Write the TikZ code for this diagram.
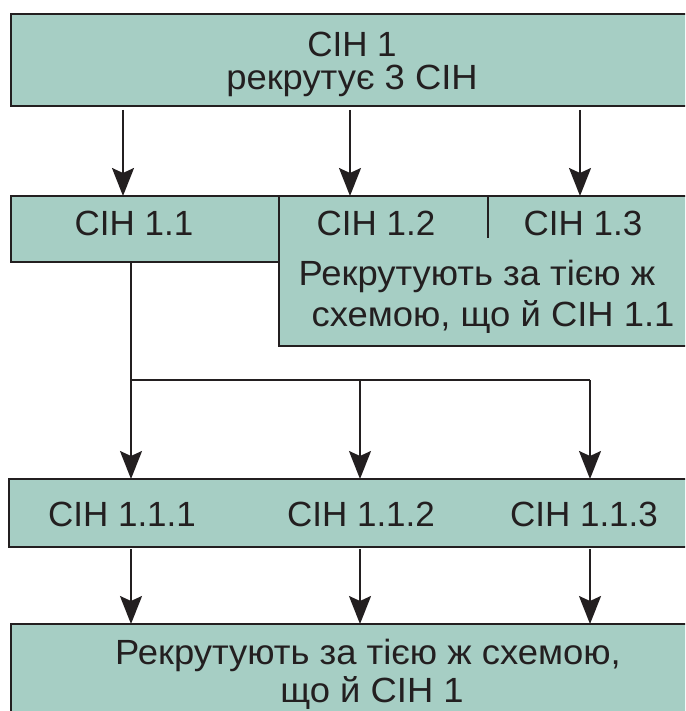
\documentclass[tikz,border=0pt]{standalone}
\usepackage{fontspec}
\setmainfont{Liberation Sans}
\newfontfamily\widefont[FakeStretch=1.04]{Liberation Sans}
\usetikzlibrary{arrows.meta}
\definecolor{boxfill}{HTML}{A6CEC4}
\definecolor{ink}{HTML}{231F20}
\begin{document}
\begin{tikzpicture}[x=1pt,y=-1pt,
  box/.style={draw=ink, line width=2.6pt, fill=boxfill, inner sep=0pt, outer sep=0pt, anchor=north west},
  lbl/.style={inner sep=0pt, text=ink, font=\fontsize{35}{40}\selectfont},
  sent/.style={inner sep=0pt, text=ink, font=\widefont\fontsize{35}{40}\selectfont},
  arr/.style={draw=ink, line width=2pt, -{Stealth[length=28pt,width=22pt,inset=5pt]}},
  ln/.style={draw=ink, line width=2pt}]
\useasboundingbox (0,0) rectangle (685,711);
\clip (0,0) rectangle (685,711);
% boxes
\node[box, minimum width=682pt, minimum height=92pt] (top) at (11,14) {};
\node[box, minimum width=414pt, minimum height=150pt] (r12) at (279,196) {};
\node[box, minimum width=268pt, minimum height=66pt] (r11) at (11,196) {};
\node[box, minimum width=684pt, minimum height=68pt] (r3) at (9,479) {};
\node[box, minimum width=682pt, minimum height=100pt] (rb) at (11,624) {};
% column coordinates
\coordinate (a1) at (123,0);
\coordinate (a2) at (350,0);
\coordinate (a3) at (580,0);
\coordinate (b1) at (131,0);
\coordinate (b2) at (360,0);
\coordinate (b3) at (590,0);
\coordinate (div) at (488,0);
\coordinate (bus) at (0,380);
% texts
\node[lbl] (t1a) at (352,44) {СІН 1};
\node[sent] (t1b) at (352,81) {рекрутує 3 СІН};
\node[lbl] (t11) at (134,223) {СІН 1.1};
\node[lbl] (t12) at (376,223) {СІН 1.2};
\node[lbl] (t13) at (583,223) {СІН 1.3};
\node[sent] (t1r1) at (477,276) {Рекрутують за тією ж};
\node[sent] (t1r2) at (493,317) {схемою, що й СІН 1.1};
\node[lbl] (t111) at (122,514) {СІН 1.1.1};
\node[lbl] (t112) at (361,514) {СІН 1.1.2};
\node[lbl] (t113) at (584,514) {СІН 1.1.3};
\node[sent] (tb1) at (368,655) {Рекрутують за тією ж схемою,};
\node[sent] (tb2) at (372,693) {що й СІН 1};
% divider
\draw[ln] (r12.north -| div) -- ++(0,42);
% arrows top -> row 2
\draw[arr, shorten <=4pt] (top.south -| a1) -- (r11.north -| a1);
\draw[arr, shorten <=4pt] (top.south -| a2) -- (r12.north -| a2);
\draw[arr, shorten <=4pt] (top.south -| a3) -- (r12.north -| a3);
% bus from 1.1
\draw[ln] (r11.south -| b1) -- (bus -| b1) -- (bus -| b3);
\draw[arr] (bus -| b1) -- (r3.north -| b1);
\draw[arr] (bus -| b2) -- (r3.north -| b2);
\draw[arr] (bus -| b3) -- (r3.north -| b3);
% arrows row 3 -> bottom
\draw[arr, shorten <=2pt] (r3.south -| b1) -- (rb.north -| b1);
\draw[arr, shorten <=2pt] (r3.south -| b2) -- (rb.north -| b2);
\draw[arr, shorten <=2pt] (r3.south -| b3) -- (rb.north -| b3);
\end{tikzpicture}
\end{document}
